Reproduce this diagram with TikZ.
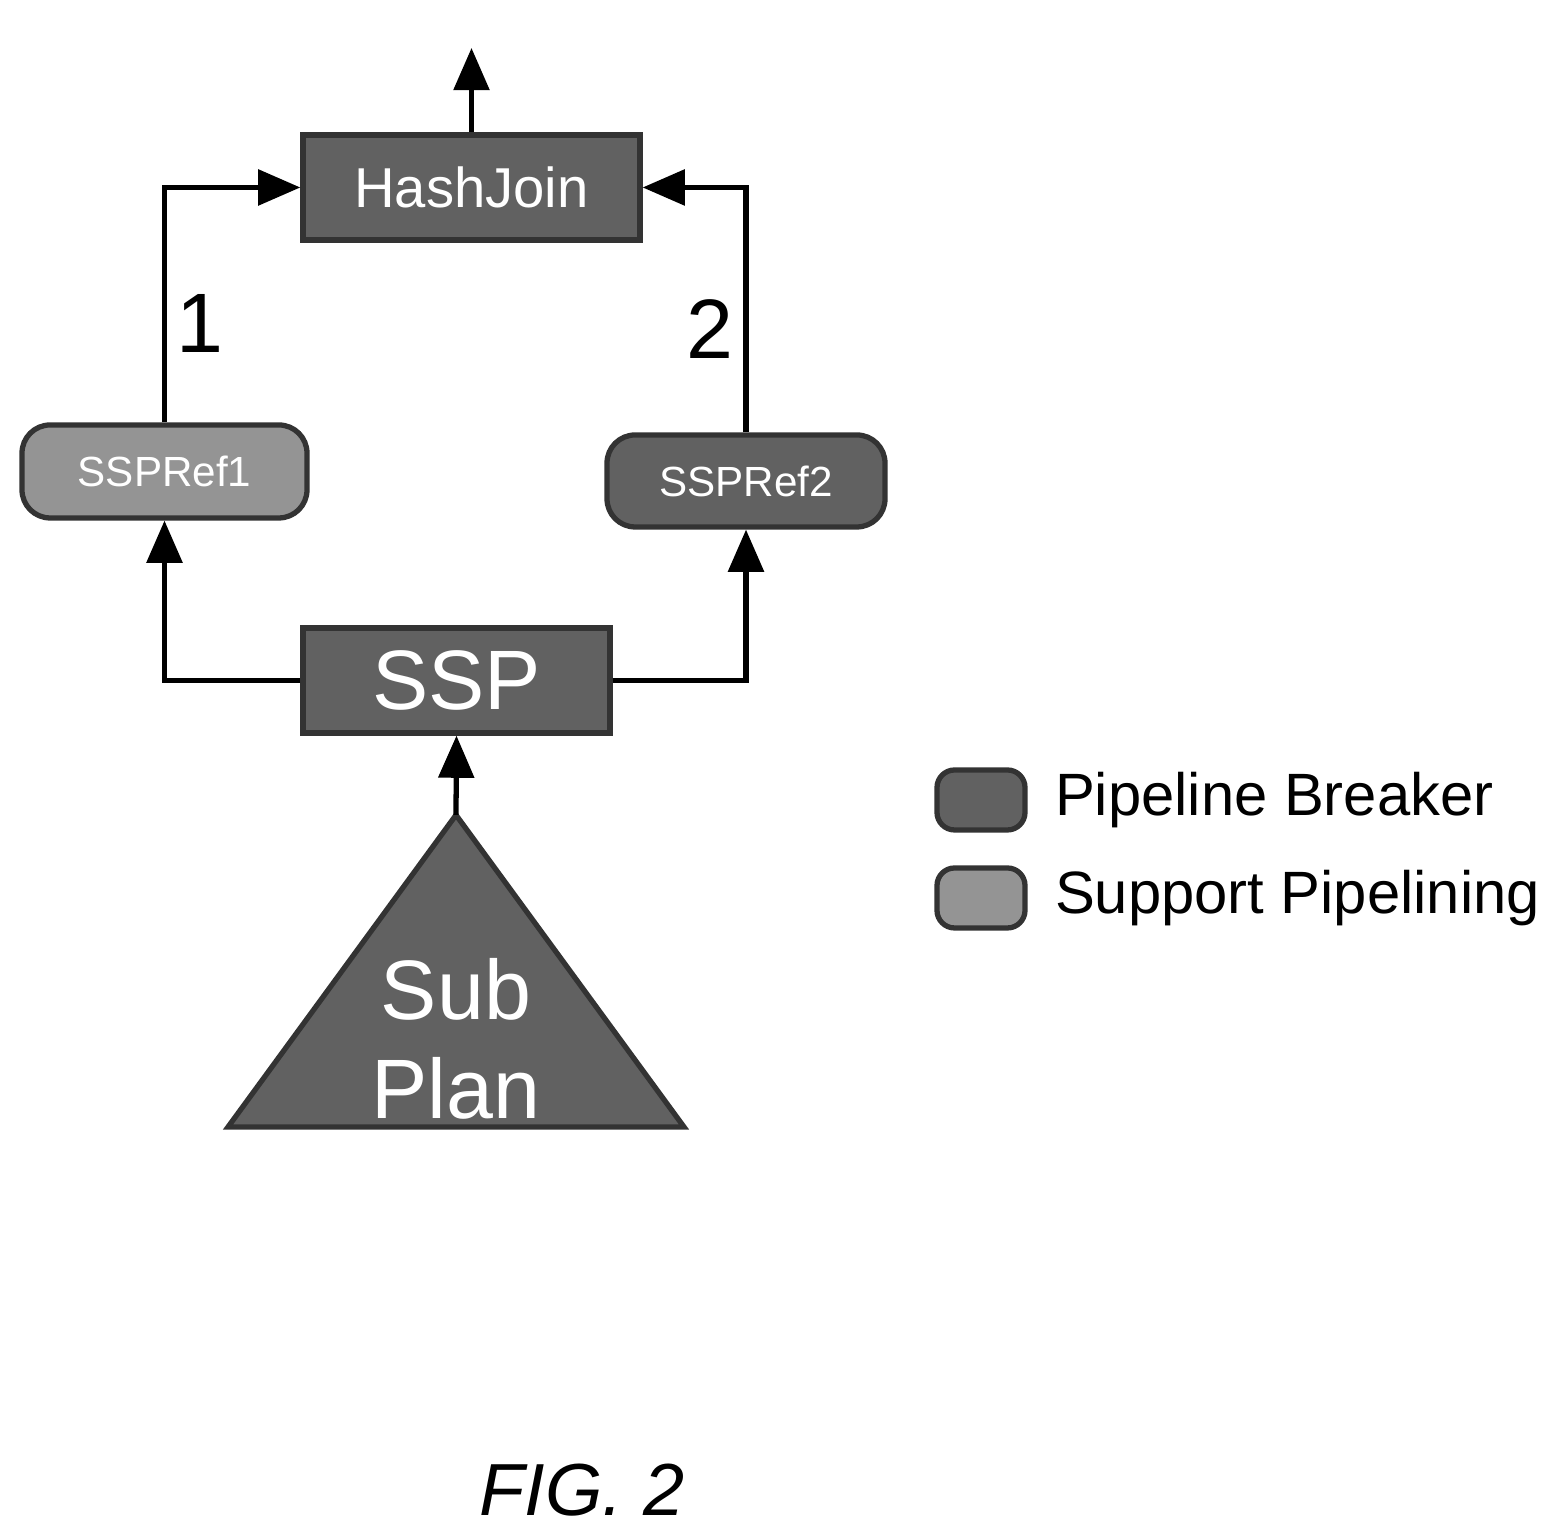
\documentclass[tikz,border=0pt]{standalone}
\usepackage{fontspec}
\setmainfont{Liberation Sans}
\usetikzlibrary{positioning,arrows.meta}
\tikzset{
  breaker/.style={draw=black!80,line width=1.5pt,fill=black!62,text=white,inner sep=0pt},
  support/.style={draw=black!80,line width=1.5pt,fill=black!42,text=white,inner sep=0pt,rounded corners=8pt},
  flow/.style={-{Triangle[length=12pt,width=10pt]},line width=1.5pt}
}
\begin{document}
\begin{tikzpicture}[every node/.style={font=\fontsize{16pt}{18pt}\selectfont}]
  \useasboundingbox (0,0) rectangle (15.5,15.34);
  \node [breaker,minimum width=3.37cm,minimum height=1.05cm] (hash) at (4.715,13.465) {HashJoin};
  \node [support,minimum width=2.85cm,minimum height=0.93cm,font=\fontsize{12pt}{14pt}\selectfont] (ref1) at (1.645,10.625) {SSPRef1};
  \node [breaker,rounded corners=8pt,minimum width=2.78cm,minimum height=0.92cm,font=\fontsize{12pt}{14pt}\selectfont] (ref2) at (7.46,10.53) {SSPRef2};
  \node [breaker,minimum width=3.07cm,minimum height=1.05cm,font=\fontsize{24pt}{26pt}\selectfont] (ssp) at (4.565,8.535) {SSP};
  \coordinate (apex) at (4.56,7.19);
  \draw [breaker] (apex) -- (6.84,4.07) -- (2.28,4.07) -- cycle;
  \node [text=white,align=center,font=\fontsize{24pt}{28pt}\selectfont] (sub) at (4.56,4.95) {Sub\\Plan};
  \coordinate (out) at (4.715,14.86);
  % connectors
  \draw [flow] (apex) -- (ssp.south);
  \draw [flow] (ssp.west) -| (ref1.south);
  \draw [flow] (ssp.east) -| (ref2.south);
  \draw [flow] (ref1.north) |- (hash.west);
  \draw [flow] (ref2.north) |- (hash.east);
  \draw [flow] (hash.north) -- (out);
  \node [font=\fontsize{24pt}{26pt}\selectfont] (one) at (2.0,12.1) {1};
  \node [font=\fontsize{24pt}{26pt}\selectfont] (two) at (7.1,12.05) {2};
  % legend
  \node [breaker,rounded corners=5pt,minimum width=0.88cm,minimum height=0.6cm] (lb) at (9.81,7.34) {};
  \node [support,rounded corners=5pt,minimum width=0.88cm,minimum height=0.6cm] (ls) at (9.81,6.36) {};
  \node [right=0.15cm of lb,font=\fontsize{17pt}{19pt}\selectfont] (lbt) {Pipeline Breaker};
  \node [right=0.15cm of ls,font=\fontsize{17pt}{19pt}\selectfont] (lst) {Support Pipelining};
  \node [font=\itshape\fontsize{21pt}{23pt}\selectfont] (fig) at (5.82,0.44) {FIG. 2};
\end{tikzpicture}
\end{document}
